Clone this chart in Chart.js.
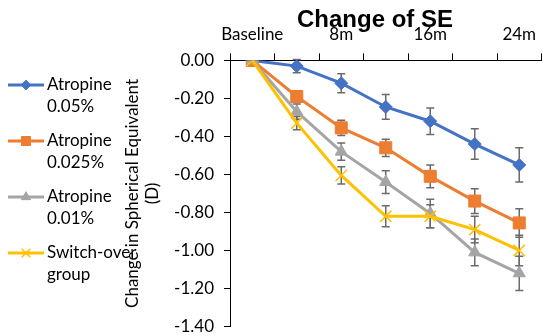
<!DOCTYPE html>
<html>
<head>
<meta charset="utf-8">
<script src="https://cdn.jsdelivr.net/npm/chart.js@4.4.0/dist/chart.umd.min.js"></script>
<style>
  html, body { margin: 0; padding: 0; background: #fff; }
  canvas { display: block; }
</style>
</head>
<body>
<canvas id="chart" width="551" height="336"></canvas>
<script>
// categories (visit months)
var months = ["Baseline", "4m", "8m", "12m", "16m", "20m", "24m"];

// mean change in SE (D) and error bar half-widths
var atropine005 = [0, -0.03, -0.12, -0.245, -0.32, -0.44, -0.55];
var atropine005Err = [0, 0.035, 0.05, 0.065, 0.07, 0.08, 0.09];
var atropine0025 = [0, -0.19, -0.355, -0.46, -0.61, -0.74, -0.855];
var atropine0025Err = [0, 0.03, 0.04, 0.045, 0.06, 0.065, 0.075];
var atropine001 = [0, -0.27, -0.48, -0.64, -0.805, -1.01, -1.12];
var atropine001Err = [0, 0.04, 0.045, 0.06, 0.075, 0.07, 0.09];
var switchOver = [0, -0.33, -0.605, -0.82, -0.82, -0.89, -1.00];
var switchOverErr = [0, 0.035, 0.045, 0.055, 0.06, 0.07, 0.08];

var legendNames = [["Atropine", "0.05%"], ["Atropine", "0.025%"], ["Atropine", "0.01%"], ["Switch-over", "group"]];
var yTitle = ["Change in Spherical Equivalent", "(D)"];
var chartTitle = "Change of SE";

var textFont = "Lato";

function series(name, data, err, color, style, radius, order, bw) {
    return {
        label: name,
        data: data,
        errors: err,
        borderColor: color,
        backgroundColor: color,
        borderWidth: 3,
        pointStyle: style,
        pointRadius: radius,
        pointHoverRadius: radius,
        pointBackgroundColor: color,
        pointBorderColor: color,
        pointBorderWidth: bw,
        tension: 0,
        order: order
    };
}

// error bars, drawn under the lines
var errorBars = {
    id: "errorBars",
    beforeDatasetsDraw: function(chart) {
        var ctx = chart.ctx;
        var y = chart.scales.y;
        var x = chart.scales.x;
        ctx.save();
        ctx.strokeStyle = "#6b6b6b";
        ctx.lineWidth = 1.5;
        chart.data.datasets.forEach(function(ds) {
            ds.data.forEach(function(v, j) {
                var e = ds.errors[j];
                if (!e) return;
                var px = x.getPixelForValue(j);
                var top = y.getPixelForValue(v + e);
                var bot = y.getPixelForValue(v - e);
                ctx.beginPath();
                ctx.moveTo(px, top); ctx.lineTo(px, bot);
                ctx.moveTo(px - 4, top); ctx.lineTo(px + 4, top);
                ctx.moveTo(px - 4, bot); ctx.lineTo(px + 4, bot);
                ctx.stroke();
            });
        });
        ctx.restore();
    }
};

// legend at the left with line + marker symbols and two-line labels
var sideLegend = {
    id: "sideLegend",
    afterDraw: function(chart) {
        var ctx = chart.ctx;
        ctx.save();
        ctx.font = "17px " + textFont;
        ctx.textBaseline = "middle";
        ctx.textAlign = "left";
        chart.data.datasets.forEach(function(ds, i) {
            var cy = 85 + i * 56;
            ctx.strokeStyle = ds.borderColor;
            ctx.lineWidth = 3;
            ctx.beginPath();
            ctx.moveTo(8, cy); ctx.lineTo(44, cy);
            ctx.stroke();
            ctx.fillStyle = ds.pointBackgroundColor;
            ctx.strokeStyle = ds.pointBorderColor;
            ctx.lineWidth = ds.pointBorderWidth;
            if (Chart.helpers && Chart.helpers.drawPoint) {
                Chart.helpers.drawPoint(ctx, {
                    pointStyle: ds.pointStyle,
                    radius: ds.pointRadius * 0.75,
                    rotation: 0,
                    borderWidth: ds.pointBorderWidth
                }, 26, cy);
            }
            ctx.fillStyle = "#000";
            ctx.fillText(legendNames[i][0], 47, cy);
            ctx.fillText(legendNames[i][1], 47, cy + 22);
        });
        ctx.restore();
    }
};

var titlePlugin = {
    id: "titlePlugin",
    afterDraw: function(chart) {
        var ctx = chart.ctx;
        ctx.save();
        ctx.font = "bold 24px 'Liberation Sans', Arial, sans-serif";
        ctx.fillStyle = "#000";
        ctx.textAlign = "center";
        ctx.textBaseline = "middle";
        ctx.fillText(chartTitle, 375, 20);
        ctx.restore();
    }
};

var ctx = document.getElementById("chart").getContext("2d");

var chartData = {
    labels: months,
    datasets: [
        series(legendNames[0].join(" "), atropine005, atropine005Err, "#4472C4", "rectRot", 6.5, 4, 1),
        series(legendNames[1].join(" "), atropine0025, atropine0025Err, "#ED7D31", "rect", 8.5, 3, 1),
        series(legendNames[2].join(" "), atropine001, atropine001Err, "#A5A5A5", "triangle", 7, 2, 1),
        series(legendNames[3].join(" "), switchOver, switchOverErr, "#FFC000", "crossRot", 8, 1, 1.5)
    ]
};

var chartOptions = {
    responsive: false,
    animation: false,
    layout: { padding: { left: 118, top: 15, right: 0, bottom: 0 } },
    plugins: {
        legend: { display: false },
        tooltip: { enabled: false },
        title: { display: false }
    },
    scales: {
        x: {
            type: "category",
            position: "top",
            offset: true,
            grid: { offset: true, drawOnChartArea: false, drawTicks: true, tickLength: 7, color: "#000" },
            border: { color: "#000", width: 1 },
            ticks: {
                autoSkip: false,
                maxRotation: 0,
                padding: 9,
                color: "#000",
                font: { family: textFont, size: 17 },
                callback: function(v, i) {
                    return i % 2 === 0 ? this.getLabelForValue(v) : "";
                }
            }
        },
        y: {
            min: -1.4,
            max: 0,
            grid: { drawOnChartArea: false, drawTicks: true, tickLength: 6, color: "#000" },
            border: { color: "#000", width: 1 },
            ticks: {
                stepSize: 0.2,
                padding: 10,
                color: "#000",
                font: { family: textFont, size: 17 },
                callback: function(v) { return Number(v).toFixed(2); }
            },
            title: {
                display: true,
                text: yTitle,
                color: "#000",
                font: { family: textFont, size: 17 },
                padding: { top: 4, bottom: 0 }
            },
            afterFit: function(s) {
                s.width = 112;
                s.paddingTop = 0;
                s.paddingBottom = 7;
            }
        }
    }
};

new Chart(ctx, {
    type: "line",
    data: chartData,
    options: chartOptions,
    plugins: [errorBars, sideLegend, titlePlugin]
});
</script>
</body>
</html>
